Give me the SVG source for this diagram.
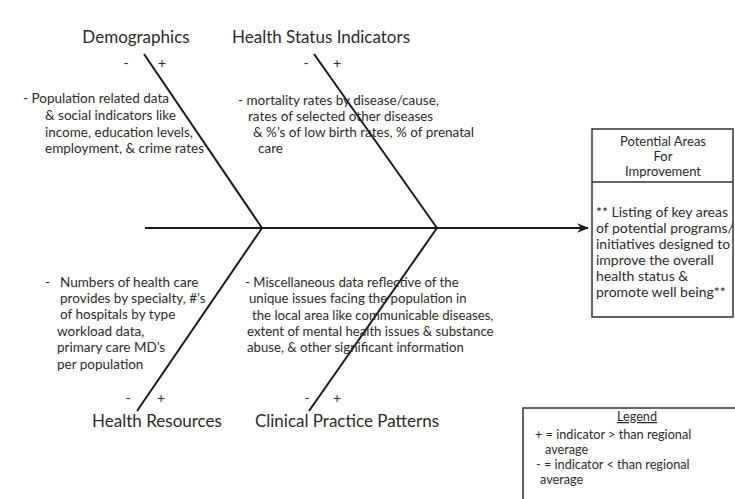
<svg xmlns="http://www.w3.org/2000/svg" width="735" height="499" viewBox="0 0 735 499">
<style>
text{font-family:Lato,"Open Sans","DejaVu Sans",sans-serif;fill:#2b2b2b;}
.lbl{font-size:17px;text-anchor:middle;}
.t{font-size:13.5px;}
.tc{font-size:13.2px;}
.tb{font-size:14px;}
.sg{font-size:14px;text-anchor:middle;}
.hd{font-size:13px;text-anchor:middle;}
.lg{font-size:12.7px;}
.bone{stroke:#1a1a1a;stroke-width:2;fill:none;}
.box{stroke:#333;stroke-width:1.5;fill:#fff;}
</style>
<defs>
<marker id="ah" viewBox="0 0 10 10" refX="9" refY="5" markerWidth="6" markerHeight="6" markerUnits="strokeWidth" orient="auto">
<path d="M0,1 L10,5 L0,9 L3,5 Z" fill="#1a1a1a"/>
</marker>
</defs>
<rect width="735" height="499" fill="#fff"/>
<g id="connectors">
<line class="bone" x1="145" y1="228" x2="588" y2="228" marker-end="url(#ah)"/>
<line class="bone" x1="144" y1="54" x2="262" y2="228"/>
<line class="bone" x1="314" y1="54" x2="437" y2="228"/>
<line class="bone" x1="262" y1="228" x2="137" y2="411"/>
<line class="bone" x1="437" y1="228" x2="309" y2="411"/>
</g>
<g id="demographics">
<text class="lbl" x="136" y="43">Demographics</text>
<text class="sg" x="126" y="68">-</text>
<text class="sg" x="162" y="68">+</text>
<text class="t" x="23" y="103">- Population related data</text>
<text class="t" x="45" y="120">&amp; social indicators like</text>
<text class="t" x="45" y="137">income, education levels,</text>
<text class="t" x="45" y="153">employment, &amp; crime rates</text>
</g>
<g id="health-status">
<text class="lbl" x="321" y="43">Health Status Indicators</text>
<text class="sg" x="306" y="68">-</text>
<text class="sg" x="337" y="68">+</text>
<text class="t" x="238" y="105">- mortality rates by disease/cause,</text>
<text class="t" x="248" y="121">rates of selected other diseases</text>
<text class="t" x="253" y="137">&amp; %’s of low birth rates, % of prenatal</text>
<text class="t" x="258" y="153">care</text>
</g>
<g id="health-resources">
<text class="lbl" x="157" y="427">Health Resources</text>
<text class="sg" x="128" y="403">-</text>
<text class="sg" x="161" y="403">+</text>
<text class="t" x="45" y="287">-</text>
<text class="t" x="60" y="287">Numbers of health care</text>
<text class="t" x="60" y="303">provides by specialty, #’s</text>
<text class="t" x="60" y="319">of hospitals by type</text>
<text class="t" x="57" y="336">workload data,</text>
<text class="t" x="57" y="352">primary care MD’s</text>
<text class="t" x="57" y="369">per population</text>
</g>
<g id="clinical-practice">
<text class="lbl" x="347" y="427">Clinical Practice Patterns</text>
<text class="sg" x="307" y="403">-</text>
<text class="sg" x="337" y="403">+</text>
<text class="tc" x="245" y="287">- Miscellaneous data reflective of the</text>
<text class="tc" x="249" y="303">unique issues facing the population in</text>
<text class="tc" x="252" y="320">the local area like communicable diseases,</text>
<text class="tc" x="247" y="336">extent of mental health issues &amp; substance</text>
<text class="tc" x="247" y="352">abuse, &amp; other significant information</text>
</g>
<g id="improvement">
<rect class="box" x="592" y="129" width="141" height="188"/>
<line class="box" x1="592" y1="182" x2="733" y2="182"/>
<text class="hd" x="663" y="146">Potential Areas</text>
<text class="hd" x="663" y="161">For</text>
<text class="hd" x="663" y="176">Improvement</text>
<text class="tb" x="596" y="217">** Listing of key areas</text>
<text class="tb" x="596" y="233">of potential programs/</text>
<text class="tb" x="596" y="249">initiatives designed to</text>
<text class="tb" x="596" y="265">improve the overall</text>
<text class="tb" x="596" y="281">health status &amp;</text>
<text class="tb" x="596" y="297">promote well being**</text>
</g>
<g id="legend">
<rect class="box" x="523" y="408" width="230" height="110"/>
<text class="lg" x="637" y="421" text-anchor="middle" text-decoration="underline">Legend</text>
<text class="lg" x="535" y="439">+ = indicator &gt; than regional</text>
<text class="lg" x="545" y="454">average</text>
<text class="lg" x="536" y="469">-  = indicator &lt; than regional</text>
<text class="lg" x="540" y="484">average</text>
</g>
</svg>
